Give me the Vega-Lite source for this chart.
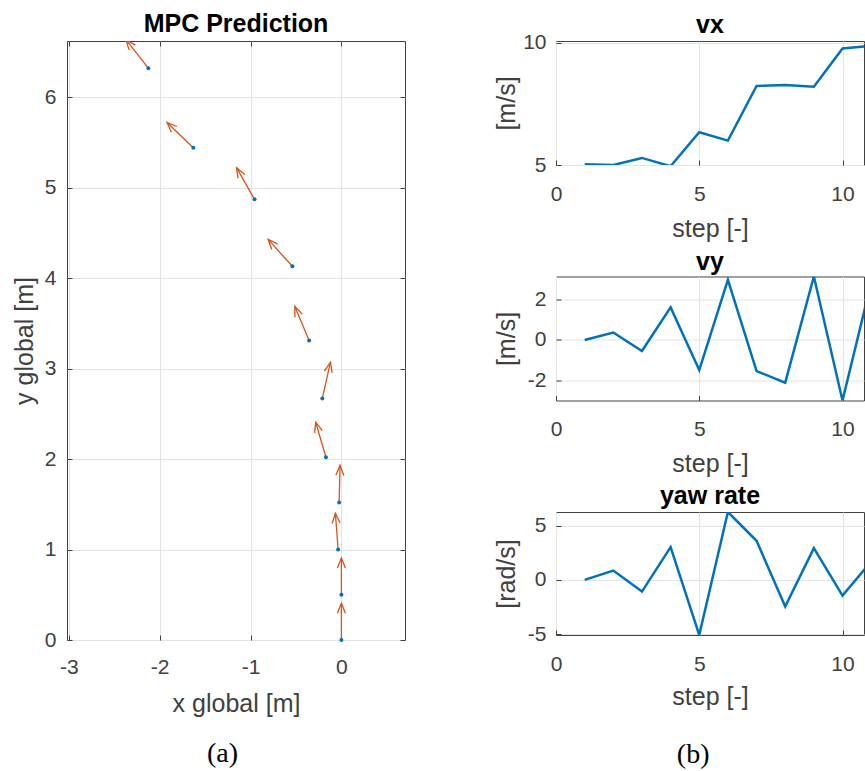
{
  "$schema": "https://vega.github.io/schema/vega-lite/v6.json",
  "padding": {"left": 11, "top": 11, "right": 0, "bottom": 2},
  "background": "white",
  "config": {
    "font": "Liberation Sans",
    "view": {"stroke": "#404040", "strokeWidth": 1},
    "axis": {
      "labelFont": "Liberation Sans", "labelFontSize": 21, "labelColor": "#404040",
      "titleFont": "Liberation Sans", "titleFontSize": 25, "titleFontWeight": "normal", "titleColor": "#404040",
      "gridColor": "#e3e3e3", "gridOpacity": 1, "domain": false,
      "tickColor": "#404040", "tickSize": -5, "labelFlush": false, "labelOverlap": false
    },
    "title": {"font": "Liberation Sans", "fontSize": 25, "fontWeight": "bold", "color": "#000000"}
  },
  "datasets": {
    "traj": [
      {"x": 0, "y": 0, "xt": 0, "yt": 0.405, "heading": 0},
      {"x": 0, "y": 0.5, "xt": 0, "yt": 0.905, "heading": 0},
      {"x": -0.036, "y": 1.0, "xt": -0.066, "yt": 1.4, "heading": -4},
      {"x": -0.025, "y": 1.52, "xt": -0.015, "yt": 1.93, "heading": 1},
      {"x": -0.17, "y": 2.02, "xt": -0.283, "yt": 2.407, "heading": -16},
      {"x": -0.21, "y": 2.67, "xt": -0.12, "yt": 3.07, "heading": 13},
      {"x": -0.355, "y": 3.31, "xt": -0.513, "yt": 3.686, "heading": -23},
      {"x": -0.54, "y": 4.13, "xt": -0.807, "yt": 4.428, "heading": -42},
      {"x": -0.956, "y": 4.87, "xt": -1.154, "yt": 5.22, "heading": -29.5},
      {"x": -1.63, "y": 5.44, "xt": -1.919, "yt": 5.72, "heading": -46},
      {"x": -2.125, "y": 6.32, "xt": -2.37, "yt": 6.634, "heading": -38}
    ],
    "states": [
      {"step": 1, "vx": 5.03, "vy": 0, "yaw": 0},
      {"step": 2, "vx": 5.0, "vy": 0.36, "yaw": 0.86},
      {"step": 3, "vx": 5.29, "vy": -0.54, "yaw": -1.08},
      {"step": 4, "vx": 4.95, "vy": 1.59, "yaw": 3.02},
      {"step": 5, "vx": 6.34, "vy": -1.47, "yaw": -5.08},
      {"step": 6, "vx": 6.0, "vy": 2.94, "yaw": 6.25},
      {"step": 7, "vx": 8.24, "vy": -1.52, "yaw": 3.6},
      {"step": 8, "vx": 8.28, "vy": -2.09, "yaw": -2.46},
      {"step": 9, "vx": 8.21, "vy": 3.1, "yaw": 2.92},
      {"step": 10, "vx": 9.77, "vy": -2.96, "yaw": -1.45},
      {"step": 11, "vx": 9.88, "vy": 2.8, "yaw": 1.7}
    ]
  },
  "hconcat": [
    {
      "title": {"text": "(a)", "orient": "bottom", "anchor": "middle", "font": "Liberation Serif", "fontSize": 28, "fontWeight": "normal", "color": "#000000", "baseline": "top", "offset": 23, "dx": 13.5, "frame": "bounds"},
      "vconcat": [
        {
          "width": 338,
          "height": 599,
          "title": {"text": "MPC Prediction", "offset": -21, "baseline": "bottom", "anchor": "middle"},
          "data": {"name": "traj"},
          "resolve": {"axis": {"x": "independent", "y": "independent"}},
          "layer": [
            {
              "mark": {"type": "rule", "color": "#D95319", "strokeWidth": 1.3, "clip": true},
              "encoding": {
                "x": {"field": "x", "type": "quantitative", "scale": {"domain": [-3.02, 0.7], "nice": false, "zero": false},
                      "axis": {"values": [-3, -2, -1, 0], "title": "x global [m]", "labelPadding": 21, "titlePadding": 14, "grid": true, "labelExpr": "replace(datum.label, '−', '-')"}},
                "y": {"field": "y", "type": "quantitative", "scale": {"domain": [0, 6.62], "nice": false, "zero": false},
                      "axis": {"values": [0, 1, 2, 3, 4, 5, 6], "title": "y global [m]", "labelPadding": 16, "titlePadding": 7, "grid": true}},
                "x2": {"field": "xt"},
                "y2": {"field": "yt"}
              }
            },
            {
              "mark": {"type": "point", "shape": "M -0.4 1 L 0 0 L 0.4 1", "filled": false, "color": "#D95319", "strokeWidth": 1.3, "size": 400, "opacity": 1, "clip": true},
              "encoding": {
                "x": {"field": "xt", "type": "quantitative", "scale": {"domain": [-3.02, 0.7], "nice": false, "zero": false}, "axis": null},
                "y": {"field": "yt", "type": "quantitative", "scale": {"domain": [0, 6.62], "nice": false, "zero": false}, "axis": null},
                "angle": {"field": "heading", "type": "quantitative", "scale": null}
              }
            },
            {
              "mark": {"type": "circle", "color": "#0072BD", "size": 16, "opacity": 1},
              "encoding": {
                "x": {"field": "x", "type": "quantitative", "scale": {"domain": [-3.02, 0.7], "nice": false, "zero": false},
                      "axis": {"orient": "top", "values": [-3, -2, -1, 0], "labels": false, "title": null, "grid": false}},
                "y": {"field": "y", "type": "quantitative", "scale": {"domain": [0, 6.62], "nice": false, "zero": false},
                      "axis": {"orient": "right", "values": [0, 1, 2, 3, 4, 5, 6], "labels": false, "title": null, "grid": false}}
              }
            }
          ]
        }
      ]
    },
    {
      "title": {"text": "(b)", "orient": "bottom", "anchor": "middle", "font": "Liberation Serif", "fontSize": 28, "fontWeight": "normal", "color": "#000000", "baseline": "top", "offset": 31, "dx": 14, "frame": "bounds"},
      "spacing": 111.5,
      "bounds": "flush",
      "vconcat": [
        {
          "width": 308, "height": 124,
          "title": {"text": "vx", "offset": -31, "baseline": "bottom", "anchor": "middle"},
          "data": {"name": "states"},
          "mark": {"type": "line", "color": "#0072BD", "strokeWidth": 2.5, "clip": true},
          "encoding": {
            "x": {"field": "step", "type": "quantitative", "scale": {"domain": [0, 10.75], "nice": false, "zero": false},
                  "axis": {"values": [0, 5, 10], "title": "step [-]", "labelPadding": 23, "titlePadding": 12}},
            "y": {"field": "vx", "type": "quantitative", "scale": {"domain": [5, 10.08], "nice": false, "zero": false},
                  "axis": {"values": [5, 10], "title": "[m/s]", "labelPadding": 15, "titlePadding": 3}}
          }
        },
        {
          "width": 308, "height": 124,
          "title": {"text": "vy", "offset": -23, "baseline": "bottom", "anchor": "middle"},
          "data": {"name": "states"},
          "mark": {"type": "line", "color": "#0072BD", "strokeWidth": 2.5, "clip": true},
          "encoding": {
            "x": {"field": "step", "type": "quantitative", "scale": {"domain": [0, 10.75], "nice": false, "zero": false},
                  "axis": {"values": [0, 5, 10], "title": "step [-]", "labelPadding": 23, "titlePadding": 12}},
            "y": {"field": "vy", "type": "quantitative", "scale": {"domain": [-2.96, 3.1], "nice": false, "zero": false},
                  "axis": {"values": [-2, 0, 2], "title": "[m/s]", "labelPadding": 15, "titlePadding": 8, "labelExpr": "replace(datum.label, '−', '-')"}}
          }
        },
        {
          "width": 308, "height": 123,
          "title": {"text": "yaw rate", "offset": -22, "baseline": "bottom", "anchor": "middle"},
          "data": {"name": "states"},
          "mark": {"type": "line", "color": "#0072BD", "strokeWidth": 2.5, "clip": true},
          "encoding": {
            "x": {"field": "step", "type": "quantitative", "scale": {"domain": [0, 10.75], "nice": false, "zero": false},
                  "axis": {"values": [0, 5, 10], "title": "step [-]", "labelPadding": 23, "titlePadding": 10}},
            "y": {"field": "yaw", "type": "quantitative", "scale": {"domain": [-5.08, 6.25], "nice": false, "zero": false},
                  "axis": {"values": [-5, 0, 5], "title": "[rad/s]", "labelPadding": 15, "titlePadding": 8, "labelExpr": "replace(datum.label, '−', '-')"}}
          }
        }
      ]
    }
  ],
  "spacing": 87,
  "bounds": "full"
}
